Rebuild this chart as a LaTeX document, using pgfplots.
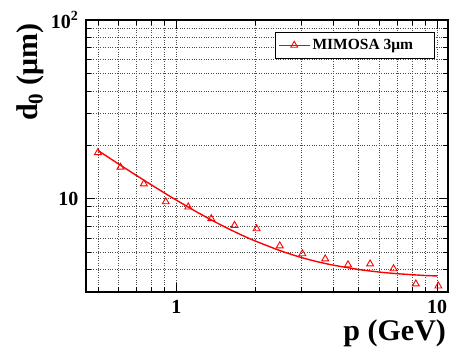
\documentclass[border=0pt]{standalone}
\usepackage{pgfplots}
\pgfplotsset{compat=1.18}
\usepackage{fontspec}
\setmainfont{Liberation Serif}
\begin{document}
\begin{tikzpicture}
\begin{axis}[
  scale only axis, width=362pt, height=272pt,
  xmode=log, ymode=log,
  xmin=0.45, xmax=11, ymin=3, ymax=100,
  log basis x=10, log basis y=10,
  xtick={1,10}, xticklabels={1,10},
  ytick={10,100}, yticklabels={10,10\textsuperscript{2}},
  minor xtick={0.5,0.6,0.7,0.8,0.9,2,3,4,5,6,7,8,9},
  minor ytick={3,4,5,6,7,8,9,20,30,40,50,60,70,80,90},
  tick align=inside, ticks=both,
  major tick length=9pt, minor tick length=5pt,
  tick style={black, line width=0.6pt},
  xtick pos=both, ytick pos=both,
  grid=both,
  major grid style={black!70, dotted, line width=0.6pt},
  minor grid style={black!70, dotted, line width=0.6pt},
  axis line style={line width=1.4pt},
  /pgf/number format/assume math mode=true,
  ticklabel style={font=\fontsize{20}{22}\selectfont\bfseries},
  xticklabel style={yshift=-5pt},
  yticklabel style={xshift=-4pt},
  xlabel={p (GeV)}, ylabel={d\textsubscript{0} (μm)},
  xlabel style={font=\fontsize{30}{32}\selectfont\bfseries, at={(axis description cs:1.004,-0.178)}, anchor=base east},
  ylabel style={font=\fontsize{30}{32}\selectfont\bfseries, at={(axis description cs:-0.135,1)}, anchor=base east},
  legend style={at={(0.964,0.956)}, anchor=north east, draw=black, line width=0.8pt,
    font=\fontsize{15.5}{17}\selectfont\bfseries, inner xsep=2pt, inner ysep=5pt},
  legend cell align=left,
  legend image code/.code={
    \draw[red, line width=1.4pt] (0cm,0cm) -- (1.1cm,0cm);
    \draw[red, line width=0.9pt, fill=white] plot[mark=triangle, mark size=4pt] coordinates {(0.55cm,0cm)};
  },
]
\addplot[red, line width=1.4pt, smooth, forget plot] coordinates {
(0.5,18.60) (0.6,15.63) (0.7,13.52) (0.8,11.96) (0.9,10.75) (1.0,9.80)
(1.2,8.40) (1.4,7.43) (1.6,6.73) (1.8,6.20) (2.0,5.80) (2.5,5.11)
(3.0,4.69) (3.5,4.42) (4.0,4.24) (5.0,4.01) (6.0,3.88) (7.0,3.80)
(8.0,3.75) (9.0,3.71) (10.0,3.69)
};
\addplot[red, only marks, mark=triangle, mark size=4pt, line width=0.9pt] coordinates {
(0.50,18.1) (0.61,15.0) (0.75,12.1) (0.91,9.6) (1.11,8.98) (1.36,7.72)
(1.67,7.08) (2.03,6.78) (2.49,5.44) (3.04,4.91) (3.72,4.60) (4.55,4.26)
(5.53,4.31) (6.80,4.05) (8.28,3.33) (10.1,3.24)
};
\addlegendentry{\makebox[118pt][l]{MIMOSA 3μm}}
\end{axis}
\pgfresetboundingbox
\path ([xshift=-86pt,yshift=-71pt]current axis.south west) rectangle ([xshift=3pt,yshift=20pt]current axis.north east);
\end{tikzpicture}
\end{document}
